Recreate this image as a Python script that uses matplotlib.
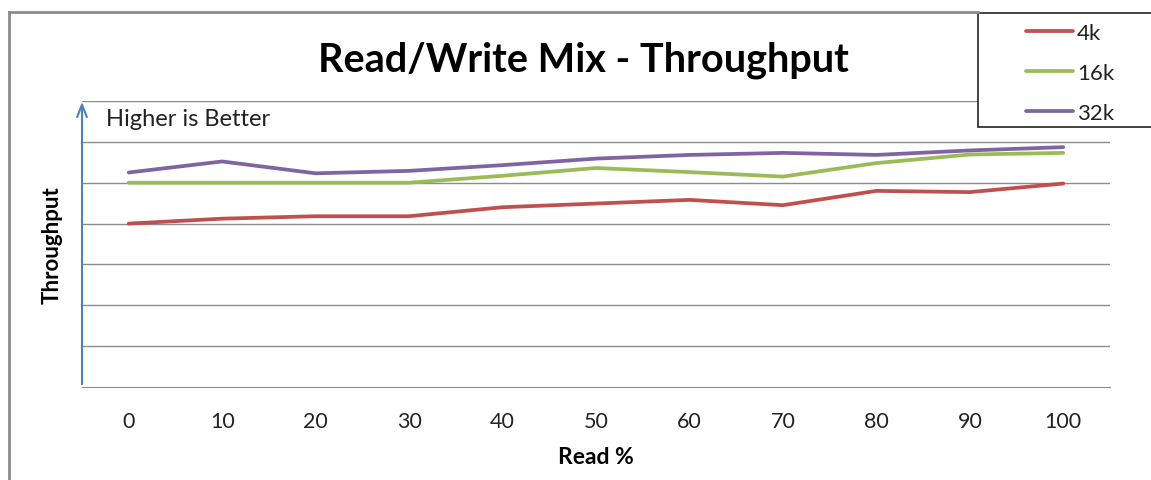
import matplotlib
matplotlib.use('Agg')
import matplotlib.pyplot as plt
from matplotlib.lines import Line2D
from matplotlib.patches import Rectangle

plt.rcParams['font.family'] = ['Lato', 'DejaVu Sans']

# data (y in gridline units)
read_pct = ['0', '10', '20', '30', '40', '50', '60', '70', '80', '90', '100']
tp_4k = [4.0, 4.12, 4.18, 4.18, 4.4, 4.49, 4.58, 4.45, 4.8, 4.77, 4.98]
tp_16k = [5.0, 5.0, 5.0, 5.0, 5.17, 5.36, 5.26, 5.15, 5.48, 5.69, 5.73]
tp_32k = [5.25, 5.52, 5.23, 5.29, 5.43, 5.59, 5.68, 5.73, 5.68, 5.79, 5.87]
series = [('4k', tp_4k, '#C0504D'), ('16k', tp_16k, '#9BBB59'), ('32k', tp_32k, '#8064A2')]

W, H = 1151, 481
fig = plt.figure(figsize=(W / 100, H / 100), dpi=100)
ax = fig.add_axes([82 / W, 1 - 388 / H, (1110 - 82) / W, (388 - 102) / H])

x = list(range(len(read_pct)))
for name, vals, col in series:
    ax.plot(x, vals, color=col, lw=2.7, label=name, solid_capstyle='round')

ax.set_xlim(-0.5, len(read_pct) - 0.5)
ax.set_ylim(0, 7)
ax.set_yticks(range(1, 8))
ax.set_yticklabels([])
ax.grid(axis='y', color='#8c8c8c', lw=1)
ax.set_axisbelow(True)
ax.set_xticks(x)
ax.set_xticklabels(read_pct, fontsize=15.5, color='#222222')
ax.tick_params(axis='x', length=0, pad=17)
ax.tick_params(axis='y', length=0)
for s in ['top', 'right', 'left']:
    ax.spines[s].set_visible(False)
ax.spines['bottom'].set_color('#8c8c8c')

# blue arrow y-axis
ax.annotate('', xy=(-0.5, 7.05), xytext=(-0.5, 0), xycoords='data',
            arrowprops=dict(arrowstyle='->,head_length=0.9,head_width=0.35',
                            color='#4F81BD', lw=1.5), annotation_clip=False)
ax.text(-0.24, 6.58, 'Higher is Better', fontsize=17, color='#222222', va='center')

fig.text(596 / W, 1 - 458 / H, 'Read %', fontsize=16.5, fontweight='bold',
         ha='center', va='center')
fig.text(52 / W, 1 - 245 / H, 'Throughput', rotation=90, fontsize=16,
         fontweight='bold', ha='center', va='center')
fig.text(583 / W, 1 - 60 / H, 'Read/Write Mix - Throughput', fontsize=28.5,
         fontweight='bold', ha='center', va='center')

# chart frame (left and top edges)
fig.add_artist(Line2D([9 / W, 9 / W], [0, 1 - 13 / H], color='#8c8c8c', lw=2))
fig.add_artist(Line2D([9 / W, 978 / W], [1 - 13 / H, 1 - 13 / H], color='#8c8c8c', lw=2))

# legend box
fig.add_artist(Rectangle((978 / W, 1 - 128 / H), 200 / W, 114 / H, transform=fig.transFigure,
                         fill=True, facecolor='white', edgecolor='#222222', lw=1.2))
leg = fig.legend(loc='upper left', bbox_to_anchor=(1006 / W, 1 - 4 / H), frameon=False,
                 fontsize=16, handlelength=2.1, handletextpad=0.2, labelspacing=0.9)
for t in leg.get_texts():
    t.set_color('#222222')

fig.savefig('out.png', dpi=100)
